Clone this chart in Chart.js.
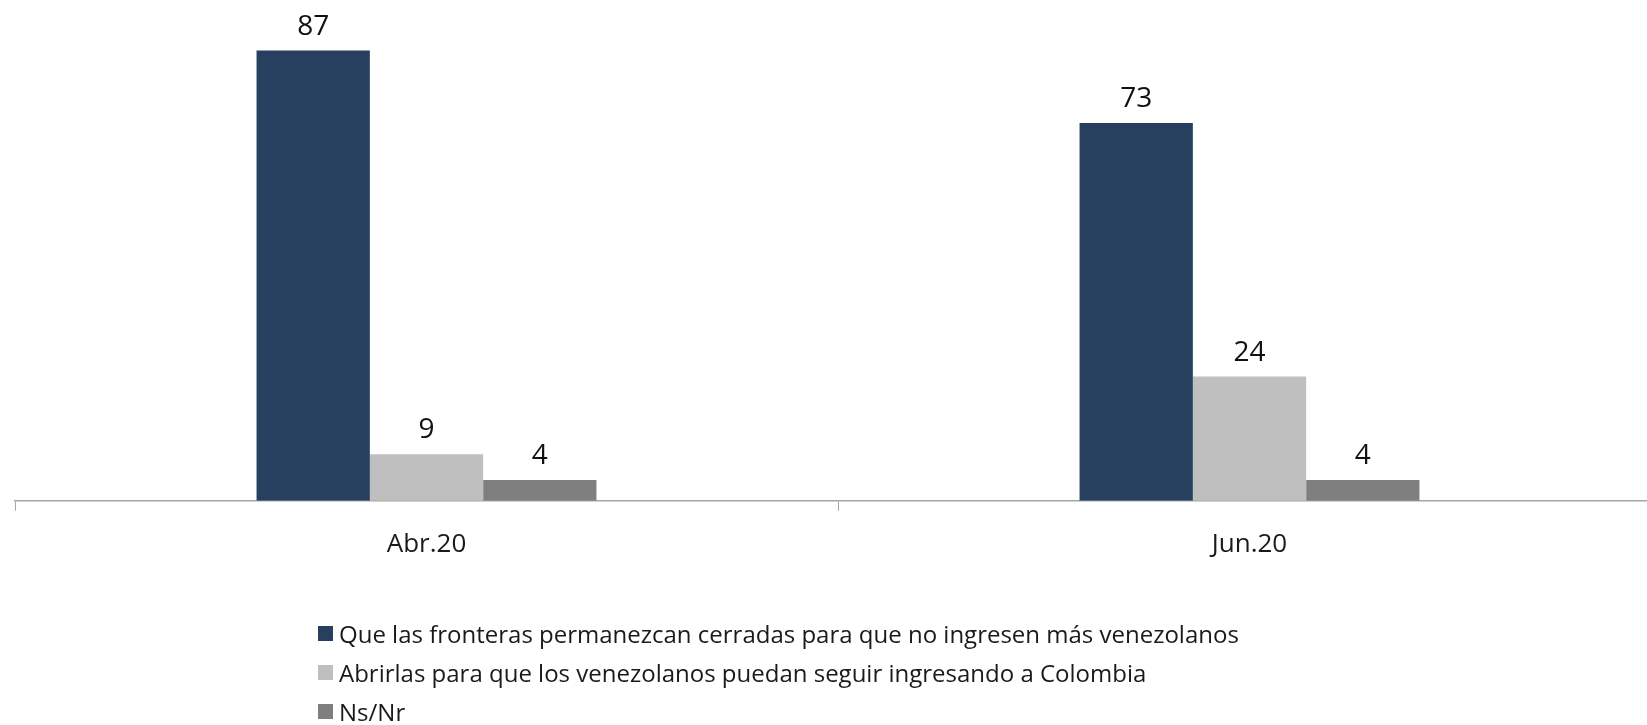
<!DOCTYPE html>
<html>
<head>
<meta charset="utf-8">
<script src="https://cdn.jsdelivr.net/npm/chart.js@4.4.1/dist/chart.umd.min.js"></script>
<style>
  html, body { margin: 0; padding: 0; background: #fff; overflow: hidden; }
  #wrap { position: relative; width: 1662px; height: 725px; }
  #legend { position: absolute; left: 318px; top: 614px; font-family: "Open Sans", sans-serif; font-size: 24px; color: #1a1a1a; }
  #legend .item { display: flex; align-items: center; height: 39px; white-space: nowrap; }
  #legend .box { width: 15px; height: 15px; margin-right: 6px; }
</style>
</head>
<body>
<div id="wrap">
  <canvas id="chart" width="1662" height="725"></canvas>
  <div id="legend"></div>
</div>
<script>
// Kill animations
Chart.defaults.animation = false;

// Data
const categories = ['Abr.20', 'Jun.20'];
const seriesLabels = [
  'Que las fronteras permanezcan cerradas para que no ingresen más venezolanos',
  'Abrirlas para que los venezolanos puedan seguir ingresando a Colombia',
  'Ns/Nr'
];
const cerradas = [87, 73];
const abrirlas = [9, 24];
const nsnr = [4, 4];
const yTicks = [0, 90];

const colors = ['#27405f', '#bfbfbf', '#7f7f7f'];

// value labels above bars
const barLabels = {
  id: 'barLabels',
  afterDatasetsDraw(chart) {
    const ctx = chart.ctx;
    ctx.save();
    ctx.font = '28px "Open Sans", sans-serif';
    ctx.fillStyle = '#111';
    ctx.textAlign = 'center';
    ctx.textBaseline = 'alphabetic';
    chart.data.datasets.forEach((ds, i) => {
      chart.getDatasetMeta(i).data.forEach((bar, j) => {
        ctx.fillText(String(ds.data[j]), bar.x, bar.y - 16);
      });
    });
    ctx.restore();
  }
};

// plain html legend, one item per line
const htmlLegend = {
  id: 'htmlLegend',
  afterUpdate(chart) {
    const box = document.getElementById('legend');
    box.innerHTML = '';
    chart.options.plugins.legend.labels.generateLabels(chart).forEach(item => {
      const row = document.createElement('div');
      row.className = 'item';
      const sw = document.createElement('span');
      sw.className = 'box';
      sw.style.background = item.fillStyle;
      const txt = document.createElement('span');
      txt.textContent = item.text;
      row.appendChild(sw);
      row.appendChild(txt);
      box.appendChild(row);
    });
  }
};

function makeChart() {
  const ctx = document.getElementById('chart');
  new Chart(ctx, {
    type: 'bar',
    data: {
      labels: categories,
      datasets: [
        { label: seriesLabels[0], data: cerradas, backgroundColor: colors[0] },
        { label: seriesLabels[1], data: abrirlas, backgroundColor: colors[1] },
        { label: seriesLabels[2], data: nsnr, backgroundColor: colors[2] }
      ]
    },
    options: {
      responsive: false,
      animation: false,
      events: [],
      layout: { padding: { top: 35, left: 15, right: 1, bottom: 147 } },
      datasets: { bar: { categoryPercentage: 0.413, barPercentage: 1, borderWidth: 0 } },
      plugins: {
        legend: { display: false },
        tooltip: { enabled: false }
      },
      scales: {
        x: {
          grid: { drawOnChartArea: false, drawTicks: true, tickLength: 10, color: '#a6a6a6', offset: true },
          border: { color: '#a6a6a6', width: 1.5 },
          ticks: { color: '#1a1a1a', font: { family: '"Open Sans", sans-serif', size: 26 }, padding: 18 }
        },
        y: {
          display: false,
          min: yTicks[0],
          max: yTicks[yTicks.length - 1]
        }
      }
    },
    plugins: [barLabels, htmlLegend]
  });
}

document.addEventListener('DOMContentLoaded', makeChart);
</script>
</body>
</html>
